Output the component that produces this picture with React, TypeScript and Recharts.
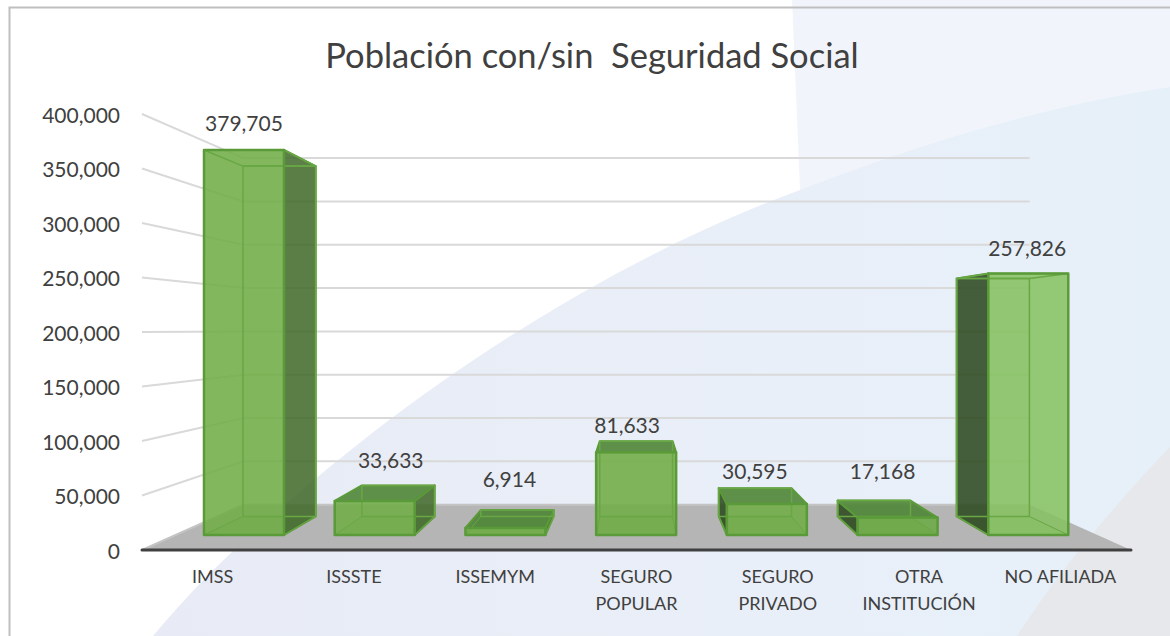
import { BarChart, Bar, XAxis, YAxis, CartesianGrid, LabelList } from 'recharts'

const categories = ['IMSS', 'ISSSTE', 'ISSEMYM', 'SEGURO\nPOPULAR', 'SEGURO\nPRIVADO', 'OTRA\nINSTITUCIÓN', 'NO AFILIADA']
const values = [379705, 33633, 6914, 81633, 30595, 17168, 257826]
const yTicks = [0, 50000, 100000, 150000, 200000, 250000, 300000, 350000, 400000]

const data = categories.map((name, i) => ({ name, value: values[i] }))

// where Excel nudged each data label, relative to the top centre of the bar
const labelNudgeX = [0, 16, 4, -9, -12, -15, -1]
const labelNudgeY = [-27, -41, -49, -28, -33, -47, -26]
const frontFills = ['#72ad48', '#72ad48', '#72ad48', '#72ad48', '#72ad48', '#6caa44', '#88c262']

const INK = '#404040'
const FONT = 'Lato, "Open Sans", sans-serif'
// perspective of the 3-D box: vanishing point, and how far back the wall and bar ends sit
const VP = { x: 636.5, y: 329 }
const WALL_DEPTH = 0.795
const BAR_DEPTH = 0.91

const project = (x: number, y: number, k: number) => [VP.x + k * (x - VP.x), VP.y + k * (y - VP.y)]
const pts = (list: number[][]) => list.map((p) => p.join(',')).join(' ')

function WallLine({ x1, x2, y1 }: any) {
  const back = project(x1, y1, WALL_DEPTH)
  const backRight = project(x2, y1, WALL_DEPTH)
  const isFloor = Math.abs(y1 - 550) < 1
  return (
    <g>
      {isFloor && (
        <polygon points={pts([[x1, y1], back, backRight, [x2, y1]])} fill="#b5b5b5" />
      )}
      <polyline
        points={pts([[x1, y1], back, backRight])}
        fill="none"
        stroke={isFloor ? '#c4c4c4' : '#d9d9d9'}
        strokeWidth={2}
      />
    </g>
  )
}

function Box3D({ x, y, width, height, index }: any) {
  const left = x
  const right = x + width
  const top = y
  const bottom = y + height
  const tl = project(left, top, BAR_DEPTH)
  const tr = project(right, top, BAR_DEPTH)
  const bl = project(left, bottom, BAR_DEPTH)
  const br = project(right, bottom, BAR_DEPTH)
  const edge = '#5a9a38'
  const inner = '#68a744'
  const seenFromAbove = top > VP.y
  return (
    <g strokeLinejoin="round">
      <polygon points={pts([[left, bottom], bl, br, [right, bottom]])} fill="#5f9a3c" fillOpacity={0.35} />
      <polygon points={pts([tl, tr, br, bl])} fill="#72ad48" fillOpacity={0.12} />
      {right < VP.x && (
        <polygon points={pts([[right, top], tr, br, [right, bottom]])} fill="#41692a" fillOpacity={0.85} stroke={edge} strokeWidth={2} />
      )}
      {left > VP.x && (
        <polygon points={pts([[left, top], tl, bl, [left, bottom]])} fill="#2f4a22" fillOpacity={0.88} stroke={edge} strokeWidth={2} />
      )}
      {seenFromAbove && (
        <polygon points={pts([[left, top], tl, tr, [right, top]])} fill="#4c8434" fillOpacity={0.88} stroke={edge} strokeWidth={2} />
      )}
      <rect x={left} y={top} width={width} height={height} fill={frontFills[index]} fillOpacity={0.88} />
      {/* hidden edges show through the translucent front */}
      <polygon points={pts([tl, tr, br, bl])} fill="none" stroke={inner} strokeWidth={1.5} />
      <polyline points={pts([[left, bottom], bl])} fill="none" stroke={inner} strokeWidth={1} />
      <polyline points={pts([[right, bottom], br])} fill="none" stroke={inner} strokeWidth={1} />
      {!seenFromAbove && (
        <polygon points={pts([[left, top], tl, tr, [right, top]])} fill="none" stroke={inner} strokeWidth={1.5} />
      )}
      <rect x={left} y={top} width={width} height={height} fill="none" stroke={edge} strokeWidth={2.5} />
    </g>
  )
}

function BarValue({ x, y, width, value, index }: any) {
  return (
    <text
      x={x + width / 2 + labelNudgeX[index]}
      y={y + labelNudgeY[index]}
      textAnchor="middle"
      dominantBaseline="central"
      fontFamily={FONT}
      fontSize={21}
      fill={INK}
    >
      {Number(value).toLocaleString('en-US')}
    </text>
  )
}

function CategoryTick({ x, y, payload }: any) {
  return (
    <text x={x} y={y} textAnchor="middle" fontFamily={FONT} fontSize={18} fill={INK}>
      {String(payload.value).split('\n').map((line, i) => (
        <tspan key={line} x={x} y={y + 33 + i * 27}>
          {line}
        </tspan>
      ))}
    </text>
  )
}

function Backdrop() {
  return (
    <svg width={1170} height={636} style={{ position: 'absolute', left: 0, top: 0 }}>
      <defs>
        <linearGradient id="swoosh" x1="0" x2="1" y1="0" y2="0">
          <stop offset="0" stopColor="#e8ebf5" />
          <stop offset="0.6" stopColor="#e9eff8" />
          <stop offset="1" stopColor="#e6f0f9" />
        </linearGradient>
      </defs>
      <rect width={1170} height={636} fill="#fff" />
      <polygon points="792,0 1170,0 1170,636 800,636 800,190" fill="#f1f5fb" />
      <path
        d="M153 636 C220 555 300 490 376 430 C500 335 650 245 800 190 C920 143 1050 105 1170 87 L1170 636 Z"
        fill="url(#swoosh)"
      />
      <path d="M1170 447 C1110 510 1060 570 1017 636 L1170 636 Z" fill="#e6e8ec" />
      <path d="M9.5 637 L9.5 7.5 L1171 7.5" fill="none" stroke="#bfbfbf" strokeWidth={2} />
    </svg>
  )
}

export default function App() {
  return (
    <div style={{ position: 'absolute', left: 0, top: 0, width: 1170, height: 636, overflow: 'hidden' }}>
      <Backdrop />
      <div style={{ position: 'absolute', left: 0, top: 0 }}>
        <BarChart width={1170} height={636} data={data} margin={{ top: 114, right: 39, bottom: 0, left: 12 }}>
          <CartesianGrid vertical={false} horizontal={WallLine as any} stroke="#d9d9d9" />
          <XAxis
            dataKey="name"
            height={86}
            interval={0}
            axisLine={{ stroke: '#404040', strokeWidth: 3, strokeLinecap: 'round' }}
            tickLine={false}
            tickMargin={0}
            tickSize={0}
            tick={<CategoryTick />}
          />
          <XAxis xAxisId="bars" dataKey="name" hide padding={{ left: 37, right: 37 }} />
          <YAxis
            width={130}
            domain={[0, 400000]}
            ticks={yTicks}
            interval={0}
            axisLine={false}
            tickLine={false}
            tickSize={0}
            tickMargin={22}
            dy={1.5}
            tickFormatter={(v: number) => v.toLocaleString('en-US')}
            tick={{ fontSize: 21, fill: INK, fontFamily: FONT }}
          />
          <YAxis yAxisId="bars" hide domain={[-14793, 415187]} allowDataOverflow />
          {/* the front-plane axes only get ticks when a series is bound to them */}
          <Bar dataKey="value" fill="none" legendType="none" isAnimationActive={false} />
          <Bar
            dataKey="value"
            xAxisId="bars"
            yAxisId="bars"
            barSize={80}
            shape={<Box3D />}
            isAnimationActive={false}
          >
            <LabelList dataKey="value" content={<BarValue />} />
          </Bar>
          <text
            x={592}
            y={54}
            textAnchor="middle"
            dominantBaseline="central"
            fontFamily={FONT}
            fontSize={34.5}
            fill={INK}
            style={{ whiteSpace: 'pre' }}
          >
            Población con/sin  Seguridad Social
          </text>
        </BarChart>
      </div>
    </div>
  )
}
